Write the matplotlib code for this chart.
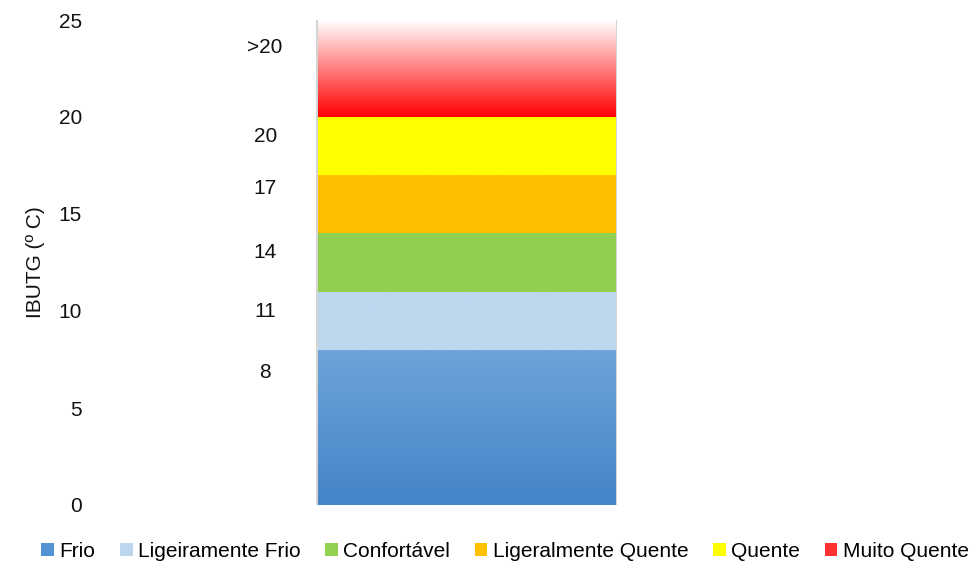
import matplotlib
matplotlib.use("Agg")
import matplotlib.pyplot as plt
import numpy as np
from matplotlib.colors import LinearSegmentedColormap
from matplotlib.patches import Patch

plt.rcParams["font.family"] = ["Liberation Sans", "DejaVu Sans"]

categories = ["Frio", "Ligeiramente Frio", "Confortável", "Ligeralmente Quente", "Quente", "Muito Quente"]
heights = [8, 3, 3, 3, 3, 5]
# (top colour, bottom colour) for each segment
seg_colors = [
    ("#6fa3da", "#4385c8"),
    ("#bdd7ee", "#bdd7ee"),
    ("#92d050", "#92d050"),
    ("#ffc000", "#ffc000"),
    ("#ffff00", "#ffff00"),
    ("#ffffff", "#ff0000"),
]
legend_colors = ["#5393d4", "#bdd7ee", "#92d050", "#ffc000", "#ffff00", "#ff3030"]
side_labels = [">20", "20", "17", "14", "11", "8"]
side_label_y = [23.6, 19.0, 16.3, 13.0, 9.95, 6.85]

FS = 15

fig = plt.figure(figsize=(9.75, 5.69), dpi=100)
ax = fig.add_axes([100 / 975, 64 / 569, 865 / 975, 485 / 569])

bar_x = 0.0
bar_w = 1.0
xlim = (-0.734, 2.178)

# soft shadow behind the column
ax.bar(bar_x - 0.008, sum(heights) + 0.1, width=bar_w + 0.016, bottom=-0.1, align="edge",
       color="#d4d4d4", zorder=1)

bottom = 0
for h, (top_c, bot_c) in zip(heights, seg_colors):
    rect = ax.bar(bar_x, h, width=bar_w, bottom=bottom, align="edge",
                  color="none", zorder=2)[0]
    cmap = LinearSegmentedColormap.from_list("g", [bot_c, top_c])
    grad = np.linspace(0, 1, 256).reshape(-1, 1)
    im = ax.imshow(grad, cmap=cmap, aspect="auto", origin="lower",
                   extent=[bar_x, bar_x + bar_w, bottom, bottom + h], zorder=3)
    im.set_clip_path(rect)
    bottom += h

ax.set_xlim(*xlim)
ax.set_ylim(0, 25)

for lab, yv in zip(side_labels, side_label_y):
    ax.text(-0.178, yv, lab, ha="center", va="center", fontsize=FS, color="#111111")

ax.set_yticks([0, 5, 10, 15, 20, 25])
ax.tick_params(axis="y", length=0, pad=13, labelsize=FS, labelcolor="#111111")
ax.set_xticks([])
for s in ax.spines.values():
    s.set_visible(False)
ax.set_ylabel("IBUTG (º C)", fontsize=FS, color="#111111", labelpad=10)

handles = [Patch(facecolor=c, edgecolor="none") for c in legend_colors]
fig.legend(handles, categories, loc="center", bbox_to_anchor=(0.518, 0.031), ncol=6,
           frameon=False, fontsize=FS, handlelength=0.6, handleheight=0.6,
           handletextpad=0.25, columnspacing=1.2, borderaxespad=0)

fig.savefig("out.png", dpi=100)
